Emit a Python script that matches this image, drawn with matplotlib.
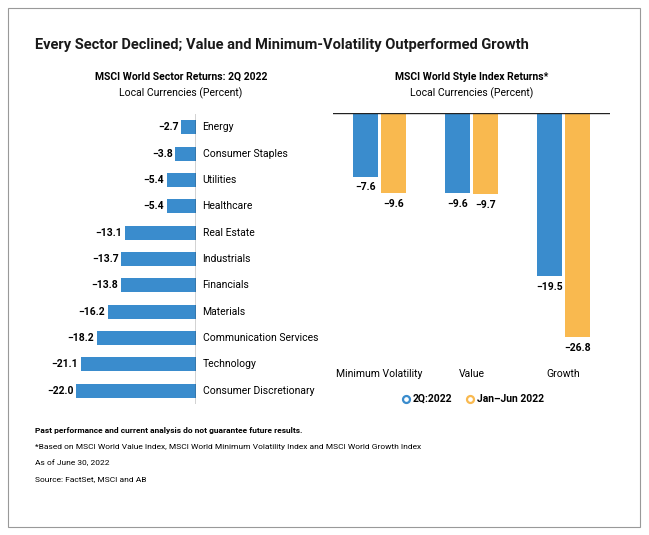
import numpy as np
import matplotlib.pyplot as plt
from matplotlib.patches import Rectangle
from matplotlib.lines import Line2D

plt.rcParams['font.family'] = ['Roboto', 'DejaVu Sans']

sectors = ['Energy', 'Consumer Staples', 'Utilities', 'Healthcare', 'Real Estate', 'Industrials',
           'Financials', 'Materials', 'Communication Services', 'Technology', 'Consumer Discretionary']
sector_ret = [-2.7, -3.8, -5.4, -5.4, -13.1, -13.7, -13.8, -16.2, -18.2, -21.1, -22.0]

styles = ['Minimum Volatility', 'Value', 'Growth']
q2 = [-7.6, -9.6, -19.5]
h1 = [-9.6, -9.7, -26.8]

blue = '#3a8ccd'
orange = '#f9b94f'
W, H = 649, 535

fig = plt.figure(figsize=(W / 100, H / 100), dpi=100)

def fx(px):
    return px / W

def fy(py):
    return 1 - py / H

fig.patches.append(Rectangle((fx(8), fy(527)), fx(632), 519 / H, transform=fig.transFigure,
                             fill=False, edgecolor='#999999', linewidth=0.8))
fig.text(fx(35), fy(45), 'Every Sector Declined; Value and Minimum-Volatility Outperformed Growth',
         fontsize=10.5, fontweight='bold', va='center', color='#1a1a1a')

# left chart
fig.text(fx(181), fy(77), 'MSCI World Sector Returns: 2Q 2022', fontsize=7.5, fontweight='bold', ha='center', va='center')
fig.text(fx(181), fy(93), 'Local Currencies (Percent)', fontsize=7.5, ha='center', va='center')
ax1 = fig.add_axes([fx(76), fy(404), fx(120), 290 / H])
y = np.arange(len(sectors))
ax1.barh(y, sector_ret, height=0.53, color=blue)
ax1.set_xlim(-22, 0)
ax1.set_ylim(10.5, -0.5)
ax1.axis('off')
ax1.axvline(0, color='#222222', linewidth=1)
for i, (s, v) in enumerate(zip(sectors, sector_ret)):
    ax1.text(1.2, i, s, fontsize=7.5, va='center', ha='left')
    ax1.text(v - 0.5, i, '\u2212%.1f' % abs(v), fontsize=7.5, fontweight='bold', va='center', ha='right')

# right chart
fig.text(fx(472), fy(77), 'MSCI World Style Index Returns*', fontsize=7.5, fontweight='bold', ha='center', va='center')
fig.text(fx(472), fy(93), 'Local Currencies (Percent)', fontsize=7.5, ha='center', va='center')
ax2 = fig.add_axes([fx(333), fy(337), fx(277), 224 / H])
x = np.arange(len(styles))
ax2.bar(x - 0.15, q2, width=0.27, color=blue)
ax2.bar(x + 0.15, h1, width=0.27, color=orange)
ax2.set_xlim(-0.505, 2.505)
ax2.set_ylim(-26.8, 0)
ax2.axis('off')
ax2.axhline(0, color='#222222', linewidth=1)
for i in range(len(styles)):
    ax2.text(i - 0.15, q2[i] - 0.7, '\u2212%.1f' % abs(q2[i]), fontsize=7.5, fontweight='bold', ha='center', va='top')
    ax2.text(i + 0.15, h1[i] - 0.7, '\u2212%.1f' % abs(h1[i]), fontsize=7.5, fontweight='bold', ha='center', va='top')
    ax2.text(i, -31.2, styles[i], fontsize=7.5, ha='center', va='center')

for px, c in [(406, blue), (470, orange)]:
    fig.add_artist(Line2D([fx(px)], [fy(399)], transform=fig.transFigure, marker='o', markersize=5,
                          markerfacecolor='none', markeredgecolor=c, markeredgewidth=1.6, linestyle='none'))
fig.text(fx(413), fy(399), '2Q:2022', fontsize=7.5, fontweight='bold', ha='left', va='center')
fig.text(fx(477), fy(399), 'Jan\u2013Jun 2022', fontsize=7.5, fontweight='bold', ha='left', va='center')

fig.text(fx(35), fy(430), 'Past performance and current analysis do not guarantee future results.',
         fontsize=6, fontweight='bold', va='center')
fig.text(fx(35), fy(447), '*Based on MSCI World Value Index, MSCI World Minimum Volatility Index and MSCI World Growth Index',
         fontsize=6, va='center')
fig.text(fx(35), fy(463), 'As of June 30, 2022', fontsize=6, va='center')
fig.text(fx(35), fy(479), 'Source: FactSet, MSCI and AB', fontsize=6, va='center')

fig.savefig('out.png', dpi=100, facecolor='white')
